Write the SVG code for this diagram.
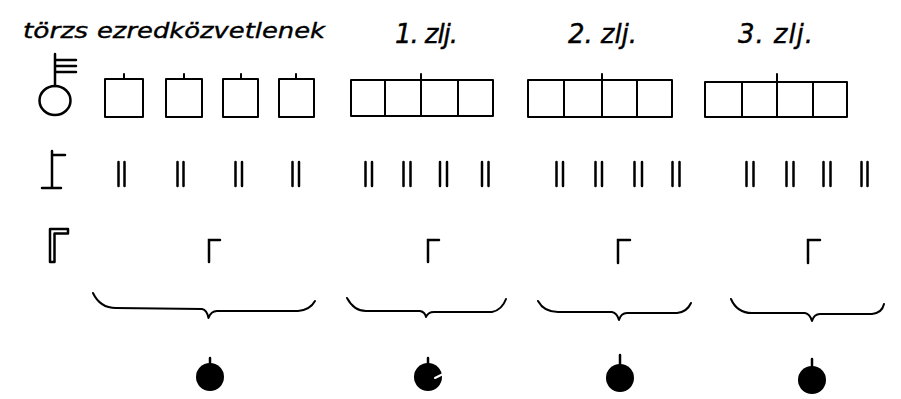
<svg xmlns="http://www.w3.org/2000/svg" width="901" height="399" viewBox="0 0 901 399">
<style>
.t{font-family:"DejaVu Sans","Liberation Sans",sans-serif;font-style:italic;fill:#000;stroke:#000;stroke-width:0.4}
.s{stroke:#000;stroke-width:2;fill:none;stroke-linecap:round;stroke-linejoin:round}
.b{stroke:#000;stroke-width:2.5;fill:none;stroke-linecap:round}
.d{fill:#000}
</style>
<rect width="901" height="399" fill="#fff"/>
<g id="headers">
<text class="t" x="23" y="38" font-size="22" textLength="65" lengthAdjust="spacingAndGlyphs">törzs</text>
<text class="t" x="97" y="38" font-size="22" textLength="228" lengthAdjust="spacingAndGlyphs">ezredközvetlenek</text>
<text class="t" x="395" y="43" font-size="26" textLength="63" lengthAdjust="spacing">1. zlj.</text>
<text class="t" x="568" y="43" font-size="26" textLength="69" lengthAdjust="spacing">2. zlj.</text>
<text class="t" x="738" y="43" font-size="26" textLength="75" lengthAdjust="spacing">3. zlj.</text>
</g>
<g id="legend-key">
<path class="b" d="M55,54 V86 M55,60 H76 M55,66 H76 M55,72 H76"/>
<ellipse class="b" cx="55" cy="100.5" rx="15.5" ry="14.5"/>
</g>
<g id="legend-post">
<path class="b" d="M52,151 V188 M52,155 H65 M42,188 H61"/>
</g>
<g id="legend-flag">
<path d="M50,262 V229 H68 V233.5 H54.5 V262 Z" stroke="#000" stroke-width="2.5" fill="none" stroke-linejoin="round"/>
</g>
<g id="col-torzs">
<path class="s" d="M105,79 H143 V117 H105 Z M124,74 V79"/>
<path class="s" d="M166,79 H202 V117 H166 Z M184,74 V79"/>
<path class="s" d="M223,79 H258 V117 H223 Z M241,74 V79"/>
<path class="s" d="M279,79 H314 V117 H279 Z M296,74 V79"/>
<path class="b" d="M118.5,162 V186 M124.5,162 V186 M177.5,162 V186 M183.5,162 V186 M235.5,162 V186 M242,162 V186 M292.5,162 V186 M299,162 V186"/>
<path class="b" d="M209,262 V240 H220"/>
<path class="s" d="M93,293 Q100,308 116,308 L202,309 Q207,310 208.5,318 Q211,311 217,311 L298,311 Q310,310 315,301"/>
<circle class="d" cx="210" cy="377" r="14"/>
<path class="b" d="M210,358 V366"/>
</g>
<g id="col-zlj1">
<path class="s" d="M351,80 H493 V116 H351 Z M385,80 V116 M421,80 V116 M458,80 V116 M421,74 V80"/>
<path class="b" d="M365.5,162 V186 M372,162 V186 M403.5,162 V186 M410.5,162 V186 M440,162 V186 M447,162 V186 M482,162 V186 M488.5,162 V186"/>
<path class="b" d="M428,262 V240 H439"/>
<path class="s" d="M347,298 Q354,311 366,311 L420,311 Q425,312 426,317 Q428,312 434,312 L492,312 Q502,310 506,299"/>
<circle class="d" cx="428" cy="377" r="14"/>
<path class="b" d="M428,358 V366"/>
<path d="M435,378 L443,374" stroke="#fff" stroke-width="2" stroke-linecap="round"/>
</g>
<g id="col-zlj2">
<path class="s" d="M528,80 H672 V117 H528 Z M564,80 V117 M602,80 V117 M637,80 V117 M602,74 V80"/>
<path class="b" d="M556.5,162 V186 M563,162 V186 M595.5,162 V186 M602,162 V186 M634.5,162 V186 M642,162 V186 M672.5,162 V186 M679.5,162 V186"/>
<path class="b" d="M618,263 V240 H630"/>
<path class="s" d="M538,301 Q544,312 558,312 L612,312 Q617,313 619,320 Q621,313 627,313 L677,313 Q687,312 691,303"/>
<circle class="d" cx="620" cy="378" r="14"/>
<path class="b" d="M620,355 V365"/>
</g>
<g id="col-zlj3">
<path class="s" d="M705,82 H847 V117 H705 Z M742,82 V117 M777,82 V117 M813,82 V117 M777,74 V82"/>
<path class="b" d="M746.5,162 V186 M753.5,162 V186 M786.5,162 V186 M793.5,162 V186 M823.5,162 V186 M830.5,162 V186 M861.5,162 V186 M867.5,162 V186"/>
<path class="b" d="M808,263 V240 H820"/>
<path class="s" d="M731,299 Q737,313 752,313 L805,313 Q810,314 812,321 Q814,314 820,314 L872,314 Q882,313 884,304"/>
<circle class="d" cx="812" cy="380" r="14"/>
<path class="b" d="M812,359 V367"/>
</g>
</svg>
